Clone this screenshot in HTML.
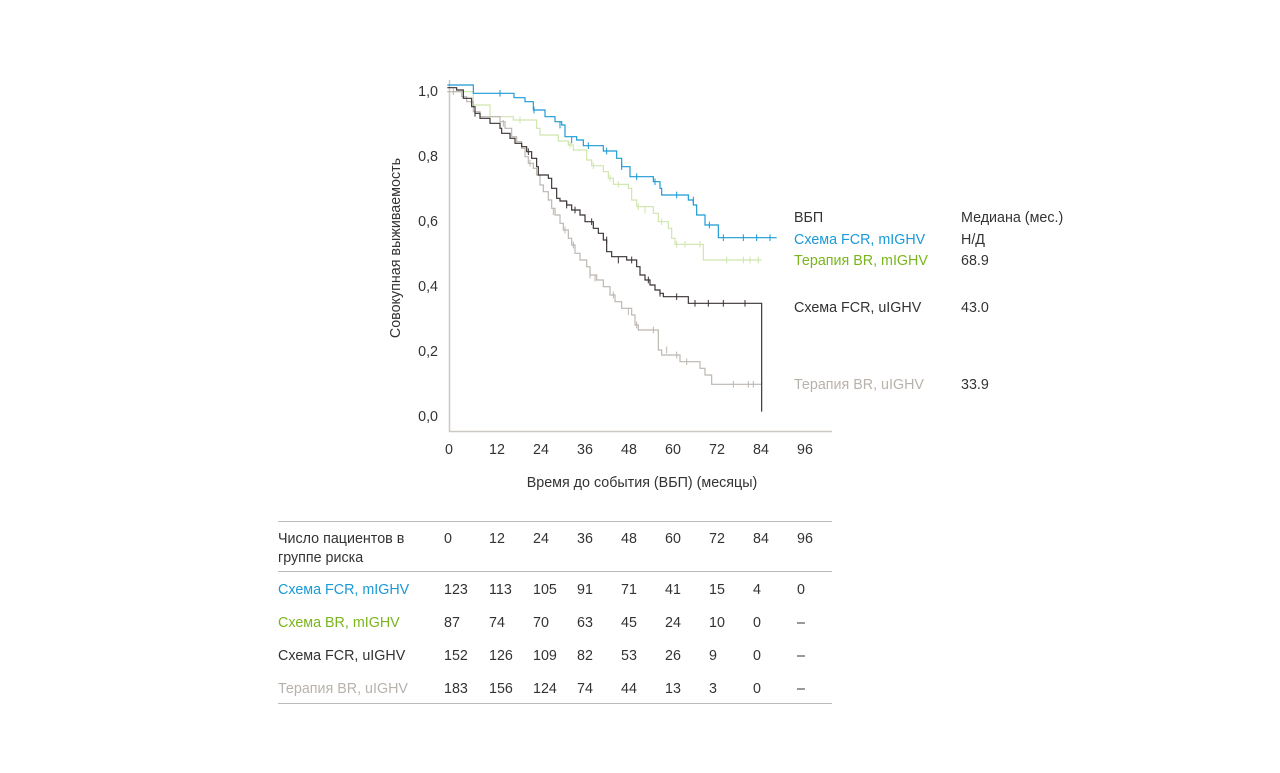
<!DOCTYPE html>
<html><head><meta charset="utf-8"><style>
body{margin:0;background:#fff;width:1280px;height:768px;overflow:hidden;font-family:"Liberation Sans","DejaVu Sans",sans-serif}
svg text{font-family:"Liberation Sans","DejaVu Sans",sans-serif;font-size:14.3px;fill:#333}
</style></head><body>
<svg width="1280" height="768" viewBox="0 0 1280 768">
<line x1="449.5" y1="80" x2="449.5" y2="432" stroke="#ccc8c4" stroke-width="1.5"/>
<line x1="449" y1="431.5" x2="832" y2="431.5" stroke="#ccc8c4" stroke-width="1.5"/>
<g text-anchor="end">
<text x="438" y="96">1,0</text><text x="438" y="161">0,8</text><text x="438" y="226">0,6</text>
<text x="438" y="291">0,4</text><text x="438" y="356">0,2</text><text x="438" y="421">0,0</text></g>
<g text-anchor="middle">
<text x="449" y="454">0</text><text x="497" y="454">12</text><text x="541" y="454">24</text><text x="585" y="454">36</text><text x="629" y="454">48</text><text x="673" y="454">60</text><text x="717" y="454">72</text><text x="761" y="454">84</text><text x="805" y="454">96</text>
<text x="642" y="487">Время до события (ВБП) (месяцы)</text>
<text transform="translate(400,248) rotate(-90)">Совокупная выживаемость</text></g>
<g transform="translate(440,75) scale(0.33333)" fill="none" stroke-width="3.5">
<path stroke="#cfe5ad" d="M22 50 H100 V90 H150 V125 H220 V135 H290 V160 H300 V180 H355 V198 H385 V210 H400 V225 H440 V255 H455 V272 H490 V290 H505 V310 H520 V328 H565 V340 H575 V375 H590 V395 H640 V415 H655 V440 H685 V460 H695 V490 H705 V508 H790 V555 H965"/>
<path stroke="#bcb6b0" d="M22 50 H65 V65 H80 V80 H100 V110 H120 V125 H180 V140 H195 V160 H215 V185 H230 V200 H245 V220 H255 V245 H265 V265 H280 V280 H290 V300 H300 V330 H310 V350 H325 V375 H335 V400 H345 V420 H360 V445 H370 V465 H385 V490 H395 V510 H405 V535 H420 V555 H440 V575 H450 V600 H470 V615 H490 V635 H510 V660 H525 V680 H545 V700 H575 V720 H585 V750 H595 V765 H655 V825 H665 V840 H720 V860 H780 V880 H795 V900 H815 V928 H965"/>
<path stroke="#3a3232" d="M22 38 H50 V45 H70 V70 H95 V95 H105 V115 H120 V130 H150 V145 H180 V160 H185 V175 H210 V190 H225 V205 H245 V215 H260 V230 H275 V250 H290 V275 H295 V300 H325 V310 H335 V340 H350 V370 H360 V378 H380 V390 H395 V405 H420 V420 H435 V440 H460 V460 H475 V475 H490 V495 H500 V530 H515 V545 H560 V555 H590 V575 H600 V600 H615 V615 H630 V630 H645 V645 H660 V655 H670 V665 H745 V685 H965 V1010"/>
<path stroke="#1a9ad6" d="M22 30 H100 V55 H222 V68 H255 V80 H280 V105 H315 V125 H345 V140 H365 V150 H375 V185 H410 V195 H430 V212 H490 V228 H530 V250 H545 V275 H570 V305 H640 V320 H660 V340 H665 V360 H745 V375 H760 V390 H770 V420 H795 V450 H835 V488 H1010"/>
<g stroke="#1a9ad6" stroke-width="3"><path d="M180 45v20M282 95v20M360 140v20M395 185v20M445 202v20M500 218v20M545 265v20M590 295v20M645 310v20M710 350v20M760 365v20M808 440v20M850 478v20M910 478v20M950 478v20M990 478v20"/></g>
<g stroke="#cfe5ad" stroke-width="3"><path d="M240 125v20M390 200v20M460 262v20M510 300v20M535 318v20M595 385v20M615 395v20M665 430v20M710 498v20M735 498v20M780 498v20M860 545v20M910 545v20M930 545v20M955 545v20"/></g>
<g stroke="#3a3232" stroke-width="3"><path d="M105 105v20M265 220v20M380 380v20M405 395v20M455 430v20M500 485v20M535 545v20M575 545v20M600 575v20M625 605v20M660 645v20M710 655v20M765 675v20M805 675v20M850 675v20M915 675v20"/></g>
<g stroke="#bcb6b0" stroke-width="3"><path d="M40 40v20M190 135v20M270 255v20M340 400v20M375 455v20M400 500v20M450 590v20M465 600v20M520 650v20M565 700v20M590 740v20M640 755v20M680 815v20M710 830v20M740 850v20M880 918v20M925 918v20M940 918v20"/></g>
</g>
<text x="794" y="222">ВБП</text><text x="961" y="222">Медиана (мес.)</text>
<text x="794" y="244" style="fill:#1a9ad6">Схема FCR, mIGHV</text><text x="961" y="244">Н/Д</text>
<text x="794" y="265" style="fill:#7ab51d">Терапия BR, mIGHV</text><text x="961" y="265">68.9</text>
<text x="794" y="312">Схема FCR, uIGHV</text><text x="961" y="312">43.0</text>
<text x="794" y="389" style="fill:#b8b2ac">Терапия BR, uIGHV</text><text x="961" y="389">33.9</text>
<g stroke="#bbb"><line x1="278" y1="521.5" x2="832" y2="521.5"/><line x1="278" y1="571.5" x2="832" y2="571.5"/><line x1="278" y1="703.5" x2="832" y2="703.5"/></g>
<text x="278" y="543">Число пациентов в</text><text x="278" y="562">группе риска</text>
<g><text x="444" y="543">0</text><text x="489" y="543">12</text><text x="533" y="543">24</text><text x="577" y="543">36</text><text x="621" y="543">48</text><text x="665" y="543">60</text><text x="709" y="543">72</text><text x="753" y="543">84</text><text x="797" y="543">96</text></g>
<text x="278" y="594" style="fill:#1a9ad6">Схема FCR, mIGHV</text>
<g><text x="444" y="594">123</text><text x="489" y="594">113</text><text x="533" y="594">105</text><text x="577" y="594">91</text><text x="621" y="594">71</text><text x="665" y="594">41</text><text x="709" y="594">15</text><text x="753" y="594">4</text><text x="797" y="594">0</text></g>
<text x="278" y="627" style="fill:#7ab51d">Схема BR, mIGHV</text>
<g><text x="444" y="627">87</text><text x="489" y="627">74</text><text x="533" y="627">70</text><text x="577" y="627">63</text><text x="621" y="627">45</text><text x="665" y="627">24</text><text x="709" y="627">10</text><text x="753" y="627">0</text><text x="797" y="627">–</text></g>
<text x="278" y="660">Схема FCR, uIGHV</text>
<g><text x="444" y="660">152</text><text x="489" y="660">126</text><text x="533" y="660">109</text><text x="577" y="660">82</text><text x="621" y="660">53</text><text x="665" y="660">26</text><text x="709" y="660">9</text><text x="753" y="660">0</text><text x="797" y="660">–</text></g>
<text x="278" y="693" style="fill:#b8b2ac">Терапия BR, uIGHV</text>
<g><text x="444" y="693">183</text><text x="489" y="693">156</text><text x="533" y="693">124</text><text x="577" y="693">74</text><text x="621" y="693">44</text><text x="665" y="693">13</text><text x="709" y="693">3</text><text x="753" y="693">0</text><text x="797" y="693">–</text></g>
</svg>
</body></html>
